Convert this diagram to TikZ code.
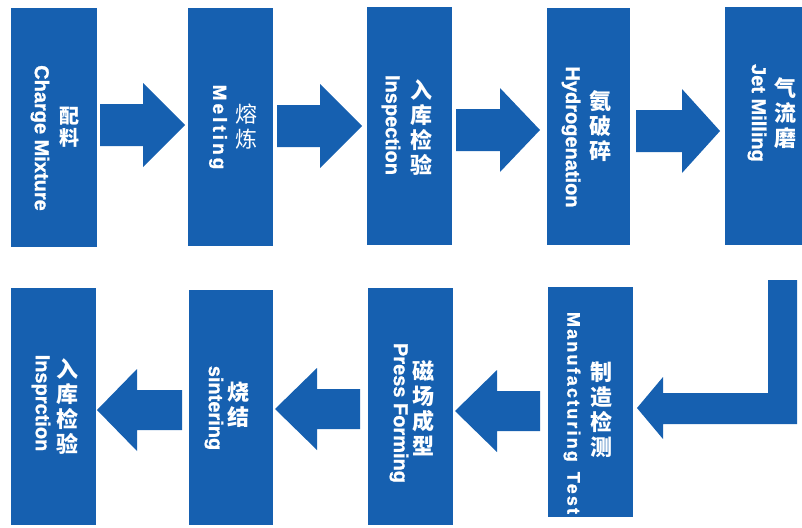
\documentclass[tikz,border=0pt]{standalone}
\usepackage{fontspec}
\newfontfamily\cjk{Noto Sans CJK SC}
\newfontfamily\enb{Liberation Sans Bold}[FakeBold=1.2]
\definecolor{myblue}{RGB}{22,96,176}
\tikzset{
  box/.style={fill=myblue, draw=none, inner sep=0pt, outer sep=0pt, anchor=north west},
  entext/.style={text=white, rotate=-90, inner sep=0pt, font=\enb\fontsize{20}{20}\selectfont},
  cntext/.style={text=white, align=center, inner sep=0pt, font=\cjk\bfseries\fontsize{22}{25}\selectfont},
  barrow/.style={fill=myblue, draw=none}
}
\begin{document}
\begin{tikzpicture}[x=1pt,y=-1pt]
\useasboundingbox (0,0) rectangle (802,527);
% top row boxes
\node[box, minimum width=86, minimum height=239] (c1) at (11,8) {};
\node[box, minimum width=85, minimum height=238] (c2) at (188,8) {};
\node[box, minimum width=85, minimum height=238] (c3) at (367,7) {};
\node[box, minimum width=83, minimum height=237] (c4) at (547,8) {};
\node[box, minimum width=77, minimum height=238] (c5) at (725,7) {};
% bottom row boxes
\node[box, minimum width=85, minimum height=237] (d1) at (11,288) {};
\node[box, minimum width=84, minimum height=235] (d2) at (189,290) {};
\node[box, minimum width=85, minimum height=237] (d3) at (368,288) {};
\node[box, minimum width=85, minimum height=230] (d4) at (548,287) {};
% texts top
\node[entext] (c1e) at (40,138) {Charge Mixture};
\node[cntext, font=\cjk\bfseries\fontsize{20}{22}\selectfont] (c1c) at (69,127) {配\\料};
\node[entext, font=\enb\fontsize{19}{19}\selectfont\addfontfeature{LetterSpace=16}] (c2e) at (218,127) {Melting};
\node[cntext, font=\cjk\fontsize{22}{25}\selectfont] (c2c) at (246,127) {熔\\炼};
\node[entext] (c3e) at (391,125) {Inspection};
\node[cntext] (c3c) at (421,128) {入\\库\\检\\验};
\node[entext] (c4e) at (571,137) {Hydrogenation};
\node[cntext] (c4c) at (600,126) {氨\\破\\碎};
\node[entext] (c5e) at (757,113) {Jet Milling};
\node[cntext] (c5c) at (785,113) {气\\流\\磨};
% texts bottom
\node[entext] (d1e) at (41,403) {Insprction};
\node[cntext] (d1c) at (67,407) {入\\库\\检\\验};
\node[entext] (d2e) at (214,408) {sintering};
\node[cntext] (d2c) at (238,405) {烧\\结};
\node[entext] (d3e) at (399,413) {Press Forming};
\node[cntext] (d3c) at (423,408) {磁\\场\\成\\型};
\node[entext, font=\enb\fontsize{18}{18}\selectfont\addfontfeature{LetterSpace=12}] (d4e) at (572,413) {Manufacturing\hspace{10pt}Test};
\node[cntext] (d4c) at (601,410) {制\\造\\检\\测};
% top arrows
\fill[barrow] (100,104)--(143,104)--(143,83)--(185,125)--(143,167)--(143,146)--(100,146)--cycle;
\fill[barrow] (277,105)--(320,105)--(320,84)--(362,126)--(320,168)--(320,147)--(277,147)--cycle;
\fill[barrow] (456,109)--(500,109)--(500,88)--(540,130)--(500,172)--(500,151)--(456,151)--cycle;
\fill[barrow] (636,110)--(682,110)--(682,89)--(720,131)--(682,173)--(682,152)--(636,152)--cycle;
% bottom arrows
\fill[barrow] (182,390)--(137,390)--(137,369)--(97,410)--(137,451)--(137,430)--(182,430)--cycle;
\fill[barrow] (360,389)--(317,389)--(317,368)--(275,409)--(317,450)--(317,429)--(360,429)--cycle;
\fill[barrow] (540,391)--(497,391)--(497,370)--(455,411)--(497,452)--(497,431)--(540,431)--cycle;
% bent arrow
\fill[barrow] (768,280)--(797,280)--(797,424)--(663,424)--(663,439)--(637,408)--(663,377)--(663,393)--(768,393)--cycle;
\end{tikzpicture}
\end{document}
